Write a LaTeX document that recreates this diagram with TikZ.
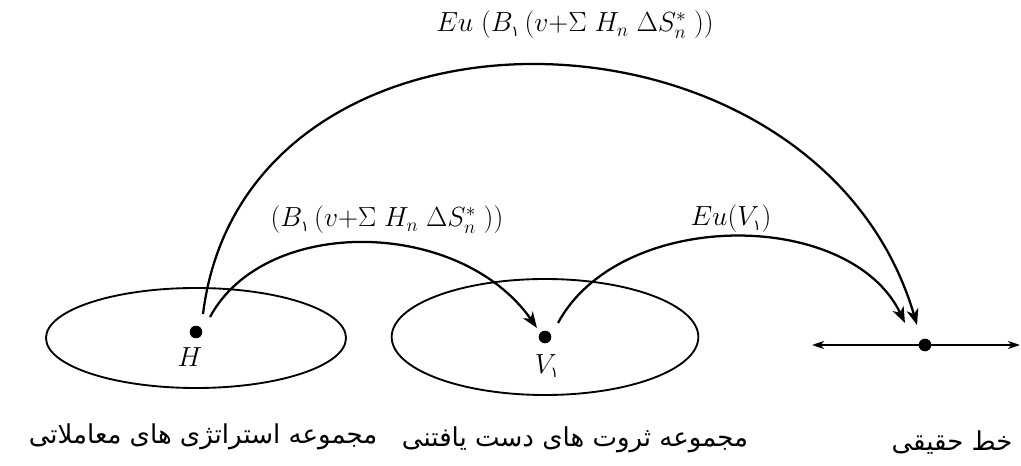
\documentclass[tikz,border=0pt]{standalone}
\usepackage{fontspec}
\usetikzlibrary{arrows.meta,shapes.geometric}
\TeXXeTstate=1
\newfontfamily\arabicfont[Script=Arabic]{DejaVu Sans}
\newcommand{\pone}{\mbox{\arabicfont\fontsize{11}{11}\selectfont ۱}}
\begin{document}
\begin{tikzpicture}[x=0.75pt,y=-0.75pt,
  setline/.style={line width=1.4pt},
  arc/.style={line width=1.7pt,-{Stealth[length=12pt,width=9pt,inset=3.5pt]}},
  dotnode/.style={circle,fill=black,inner sep=0pt,minimum size=9.5pt},
  mlabel/.style={font=\huge,inner sep=0pt},
  plabel/.style={font={\arabicfont\fontsize{19.5}{23}\selectfont},inner sep=0pt}]
\useasboundingbox (0,0) rectangle (1021,466);
% sets
\node[setline,draw,ellipse,minimum width=225pt,minimum height=75pt,inner sep=0pt] (S1) at (196,338) {};
\node[setline,draw,ellipse,minimum width=230pt,minimum height=87pt,inner sep=0pt] (S2) at (545,337) {};
% points
\node[dotnode] (H) at (196,332) {};
\node[dotnode] (V) at (545,337) {};
\node[dotnode] (R) at (925,345) {};
\node[mlabel] (Hl) at (190,357) {$H$};
\node[mlabel] (Vl) at (547,366) {$V_{\pone}$};
% real line
\coordinate (Lleft) at (812,345);
\coordinate (Lright) at (1020,345);
\draw[line width=1.4pt,{Stealth[length=9pt,width=6pt,inset=2.5pt]}-{Stealth[length=9pt,width=6pt,inset=2.5pt]}] (Lleft) -- (Lright);
% arcs
\draw[arc] ([shift={(7,-18)}]H.center) .. controls (245,-25) and (817,-14) .. ([shift={(-8,-20)}]R.center);
\draw[arc] ([shift={(14,-15)}]H.center) .. controls (265,215) and (460,218) .. ([shift={(-8,-9)}]V.center);
\draw[arc] ([shift={(13,-14)}]V.center) .. controls (620,208) and (850,208) .. ([shift={(-20,-22)}]R.center);
% labels
\node[mlabel,anchor=base] (L1) at (575,32) {$Eu\;(B_{\pone}\,(v{+}\Sigma\; H_n\;\Delta S^*_n\;))$};
\node[mlabel,anchor=base] (L2) at (387,227) {$(B_{\pone}\,(v{+}\Sigma\; H_n\;\Delta S^*_n\;))$};
\node[mlabel,anchor=base] (L3) at (731,226) {$Eu(V_{\pone})$};
\node[plabel] (P1) at (203,437) {\beginR مجموعه استراتژی های معاملاتی\endR};
\node[plabel] (P2) at (575,440) {\beginR مجموعه ثروت های دست یافتنی\endR};
\node[plabel] (P3) at (952,443) {\beginR خط حقیقی\endR};
\end{tikzpicture}
\end{document}
